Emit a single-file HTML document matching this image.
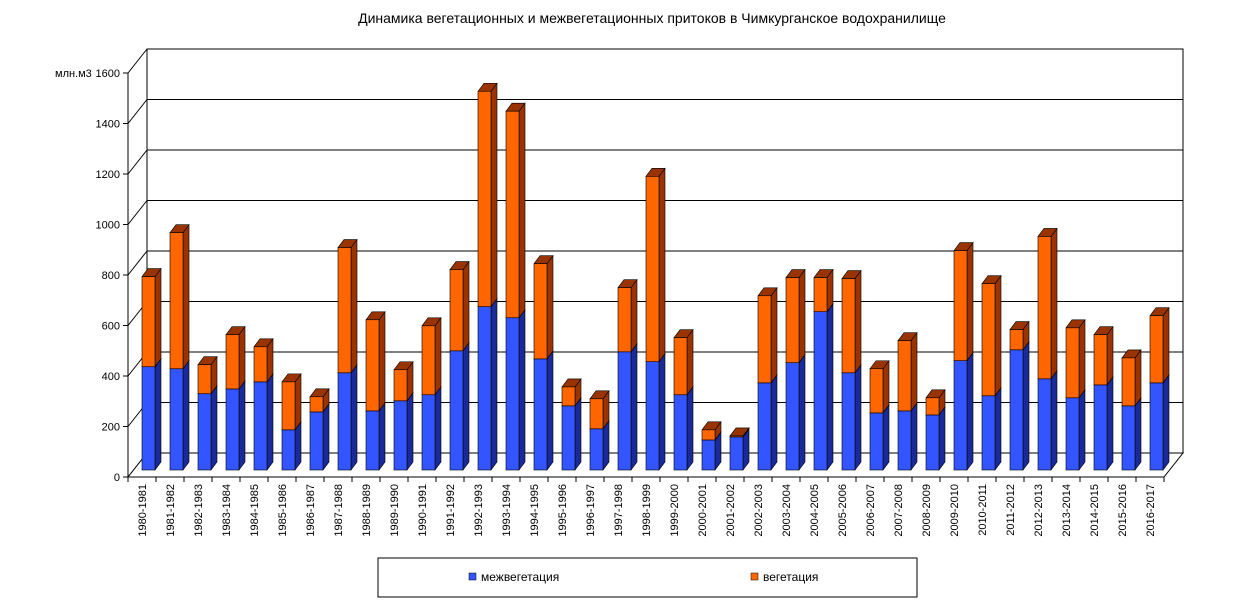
<!DOCTYPE html>
<html><head><meta charset="utf-8"><style>
body{margin:0;background:#fff;font-family:"Liberation Sans",sans-serif}
</style></head><body>
<svg id="chart" width="1233" height="603" xmlns="http://www.w3.org/2000/svg" font-family="Liberation Sans, sans-serif">
<text x="652" y="23" font-size="14" text-anchor="middle">Динамика вегетационных и межвегетационных притоков в Чимкурганское  водохранилище</text>
<text x="55" y="77" font-size="11">млн.м3</text>
<g id="frame"></g>
<g id="bars"></g>
<g id="xlabels"></g>
<rect x="378" y="558" width="539" height="39" fill="#fff" stroke="#000"/>
<g><rect x="469" y="573" width="7" height="7" fill="#3355ff" stroke="#000" stroke-width="0.5"/><text x="481" y="581" font-size="12">межвегетация</text></g>
<g><rect x="751" y="573" width="7" height="7" fill="#ff6600" stroke="#000" stroke-width="0.5"/><text x="763" y="581" font-size="12">вегетация</text></g>
</svg>
<script>
const categories=["1980-1981","1981-1982","1982-1983","1983-1984","1984-1985","1985-1986","1986-1987","1987-1988","1988-1989","1989-1990","1990-1991","1991-1992","1992-1993","1993-1994","1994-1995","1995-1996","1996-1997","1997-1998","1998-1999","1999-2000","2000-2001","2001-2002","2002-2003","2003-2004","2004-2005","2005-2006","2006-2007","2007-2008","2008-2009","2009-2010","2010-2011","2011-2012","2012-2013","2013-2014","2014-2015","2015-2016","2016-2017"];
const mezhveg=[409,401,302,321,349,159,230,385,234,274,298,472,647,603,440,254,163,468,429,298,119,131,345,425,627,385,226,234,218,433,294,476,361,286,337,254,345];
const veg=[357,539,115,215,139,190,60,496,361,123,273,322,853,818,377,75,119,254,734,226,40,4,345,337,135,373,175,278,68,436,444,80,564,277,199,190,266];
const yTicks=[0,200,400,600,800,1000,1200,1400,1600];
const NS="http://www.w3.org/2000/svg";
function el(tag,attrs,parent){const e=document.createElementNS(NS,tag);for(const k in attrs)e.setAttribute(k,attrs[k]);parent.appendChild(e);return e;}
const X0=128,STEP=28,FRONT0=477,SC=0.2525,DX=19,DY=-24;
const yFront=v=>FRONT0-v*SC;
const frame=document.getElementById('frame');
const xEnd=X0+STEP*categories.length;
// back wall
let w=el('rect',{x:X0+DX,y:yFront(1600)+DY,width:xEnd-X0,height:1600*SC,fill:'#fff',stroke:'#000','stroke-width':1},frame);

yTicks.forEach(t=>{
 const yf=yFront(t),yb=yf+DY;
 let g=el('line',{x1:X0+DX,y1:yb,x2:xEnd+DX,y2:yb,stroke:'#000','stroke-width':1},frame);
 
 let d=el('line',{x1:X0,y1:yf,x2:X0+DX,y2:yb,stroke:'#000','stroke-width':1},frame);
 
 let tk=el('line',{x1:X0-5,y1:yf,x2:X0,y2:yf,stroke:'#000'},frame);
 
 let tx=el('text',{x:X0-8,y:yf+4,'font-size':11,'text-anchor':'end'},frame);
 tx.textContent=t;
 
});
let wl=el('line',{x1:X0+DX,y1:yFront(1600)+DY,x2:X0+DX,y2:FRONT0+DY,stroke:'#000'},frame);

let ax=el('line',{x1:X0,y1:yFront(1600),x2:X0,y2:FRONT0,stroke:'#000'},frame);

let fl=el('polygon',{points:`${X0},${FRONT0} ${xEnd},${FRONT0} ${xEnd+DX},${FRONT0+DY} ${X0+DX},${FRONT0+DY}`,fill:'#fff',stroke:'#000'},frame);

const bars=document.getElementById('bars'),xl=document.getElementById('xlabels');
const BW=13,bdx=6,bdy=-8,BASE=FRONT0-7;
function block(x,y0,y1,front,dark,name){
 const g=el('g',{},bars);
 
 
 el('polygon',{points:`${x+BW},${y1} ${x+BW+bdx},${y1+bdy} ${x+BW+bdx},${y0+bdy} ${x+BW},${y0}`,fill:dark,stroke:'#000','stroke-width':0.6},g);
 el('polygon',{points:`${x},${y1} ${x+bdx},${y1+bdy} ${x+BW+bdx},${y1+bdy} ${x+BW},${y1}`,fill:dark,stroke:'#000','stroke-width':0.6},g);
 el('rect',{x:x,y:y1,width:BW,height:y0-y1,fill:front,stroke:'#000','stroke-width':0.6},g);
}
categories.forEach((c,i)=>{
 const x=X0+14+STEP*i;
 const yb=BASE-mezhveg[i]*SC, yt=yb-veg[i]*SC;
 block(x,BASE,yb,'#3355ff','#1a2a99','bar-mezhveg-'+c);
 block(x,yb,yt,'#ff6600','#993300','bar-veg-'+c);
 const tk=el('line',{x1:X0+STEP*i,y1:FRONT0,x2:X0+STEP*i,y2:FRONT0+5,stroke:'#000'},xl);
 
 
 const cx=X0+STEP*i+STEP/2;
 const t=el('text',{x:0,y:0,'font-size':11,'text-anchor':'end',transform:`translate(${cx+4},${FRONT0+7}) rotate(-90)`},xl);
 t.textContent=c;
 
 
});
const lt=el('line',{x1:xEnd,y1:FRONT0,x2:xEnd,y2:FRONT0+5,stroke:'#000'},xl);


</script>
</body></html>
